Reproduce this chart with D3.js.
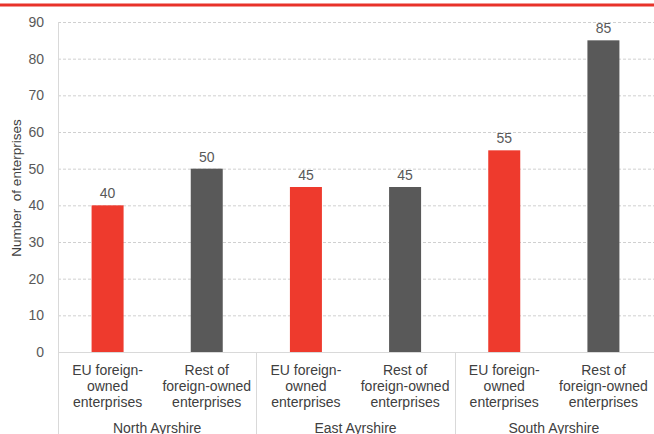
<!DOCTYPE html>
<html><head><meta charset="utf-8">
<script src="https://cdn.jsdelivr.net/npm/d3@7"></script>
<style>body{margin:0;background:#fff}svg{display:block;font-family:"Liberation Sans",Arial,sans-serif}</style>
</head><body><svg id="c" width="654" height="434"></svg>
<script>
const groups = ["North Ayrshire", "East Ayrshire", "South Ayrshire"];
const seriesNames = ["EU foreign-owned enterprises", "Rest of foreign-owned enterprises"];
const seriesLabelLines = [["EU foreign-", "owned", "enterprises"], ["Rest of", "foreign-owned", "enterprises"]];
const euValues = [40, 45, 55];
const restValues = [50, 45, 85];
const yTicks = [0, 10, 20, 30, 40, 50, 60, 70, 80, 90];
const colors = ["#ee3a2d", "#595959"];

const svg = d3.select("#c");
const m = {l: 58, r: 653, t: 22, b: 352};
const y = d3.scaleLinear().domain([0, 90]).range([m.b, m.t]);
const data = [];
groups.forEach((g, gi) => {
  data.push({g, s: 0, v: euValues[gi], key: g + "|0"});
  data.push({g, s: 1, v: restValues[gi], key: g + "|1"});
});
const x = d3.scaleBand().domain(data.map(d => d.key)).range([m.l, m.r]);
const xg = d3.scaleBand().domain(groups).range([m.l, m.r]);

// top red line
svg.append("rect").attr("x", 0).attr("y", 3.5).attr("width", 654).attr("height", 3).attr("fill", "#e8322a");

// gridlines
svg.append("g").selectAll("line").data(yTicks.filter(t => t > 0)).join("line")
  .attr("x1", m.l).attr("x2", 654).attr("y1", d => y(d) + 0.5).attr("y2", d => y(d) + 0.5)
  .attr("stroke", "#d0d0d0").attr("stroke-dasharray", "3,2").attr("stroke-width", 1);

// y axis
const ya = svg.append("g").attr("transform", `translate(${m.l},0)`)
  .call(d3.axisLeft(y).tickValues(yTicks).tickSize(0).tickPadding(14));
ya.select(".domain").remove();
ya.selectAll("text").attr("font-size", 14).attr("fill", "#595959").attr("font-family", "Liberation Sans, Arial, sans-serif");
svg.append("line").attr("x1", m.l + 0.5).attr("x2", m.l + 0.5).attr("y1", m.t).attr("y2", 434).attr("stroke", "#d9d9d9");
svg.append("line").attr("x1", m.l).attr("x2", 654).attr("y1", m.b + 0.5).attr("y2", m.b + 0.5).attr("stroke", "#d9d9d9");
// group separators
svg.append("g").selectAll("line").data(groups.slice(1)).join("line")
  .attr("x1", d => Math.round(xg(d)) + 0.5).attr("x2", d => Math.round(xg(d)) + 0.5)
  .attr("y1", m.b).attr("y2", 434).attr("stroke", "#d9d9d9");

// y title
svg.append("text").attr("transform", `translate(21,188) rotate(-90)`)
  .attr("text-anchor", "middle").attr("font-size", 13.5).attr("fill", "#404040")
  .style("white-space", "pre").text("Number  of enterprises");

// bars
const bw = 32;
svg.append("g").selectAll("rect").data(data).join("rect")
  .attr("x", d => x(d.key) + x.bandwidth() / 2 - bw / 2).attr("width", bw)
  .attr("y", d => y(d.v)).attr("height", d => y(0) - y(d.v)).attr("fill", d => colors[d.s]);

// value labels
svg.append("g").selectAll("text").data(data).join("text")
  .attr("x", d => x(d.key) + x.bandwidth() / 2).attr("y", d => y(d.v) - 7)
  .attr("text-anchor", "middle").attr("font-size", 14).attr("fill", "#595959").text(d => d.v);

// category labels
const cl = svg.append("g").selectAll("text").data(data).join("text")
  .attr("x", d => x(d.key) + x.bandwidth() / 2).attr("text-anchor", "middle")
  .attr("font-size", 14).attr("fill", "#404040");
cl.each(function(d) {
  seriesLabelLines[d.s].forEach((ln, i) => {
    d3.select(this).append("tspan").attr("x", x(d.key) + x.bandwidth() / 2).attr("y", 375 + i * 16).text(ln);
  });
});

// group labels
svg.append("g").selectAll("text").data(groups).join("text")
  .attr("x", d => xg(d) + xg.bandwidth() / 2).attr("y", 433).attr("text-anchor", "middle")
  .attr("font-size", 14).attr("fill", "#404040").text(d => d);
</script></body></html>
